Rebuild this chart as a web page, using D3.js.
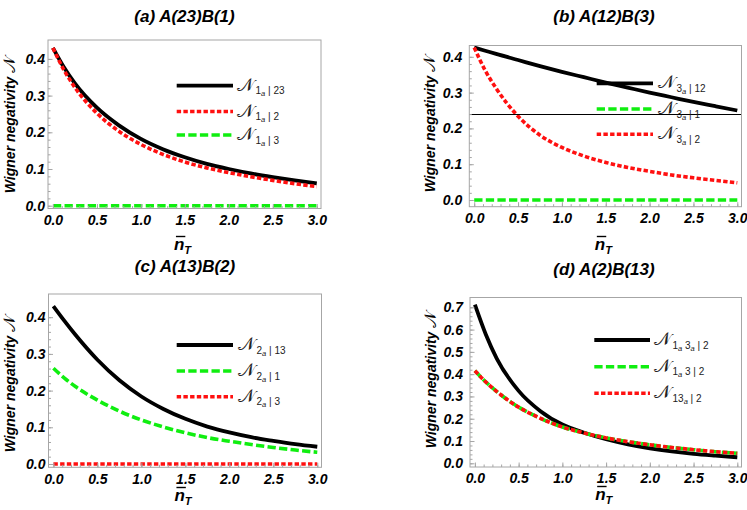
<!DOCTYPE html>
<html>
<head>
<meta charset="utf-8">
<script src="https://cdn.jsdelivr.net/npm/d3@7"></script>
<style>
  body { margin: 0; background: #fff; }
  text { font-family: "Liberation Sans", Arial, sans-serif; }
</style>
</head>
<body>
<svg id="chart" width="747" height="510"></svg>
<script>
// thermal photon number samples (shared by every curve)
const nT = [0, 0.125, 0.25, 0.5, 0.75, 1, 1.25, 1.5, 1.75, 2, 2.25, 2.5, 2.75, 3];
const zeros = [0, 0, 0, 0, 0, 0, 0, 0, 0, 0, 0, 0, 0, 0];

// (a) A(23)B(1)
const a_1a_23 = [0.430, 0.377, 0.333, 0.267, 0.219, 0.182, 0.154, 0.132, 0.114, 0.100, 0.088, 0.078, 0.069, 0.061];
const a_1a_2  = [0.430, 0.370, 0.322, 0.252, 0.203, 0.167, 0.140, 0.119, 0.103, 0.090, 0.079, 0.069, 0.060, 0.052];
const a_1a_3  = zeros;

// (b) A(12)B(3)
const b_3a_12 = [0.426, 0.417, 0.408, 0.391, 0.374, 0.358, 0.343, 0.328, 0.314, 0.300, 0.287, 0.274, 0.262, 0.250];
const b_3a_1  = zeros;
const b_3a_2  = [0.426, 0.362, 0.312, 0.234, 0.181, 0.147, 0.123, 0.105, 0.091, 0.080, 0.070, 0.062, 0.055, 0.048];
const bRefLine = 0.24;

// (c) A(13)B(2)
const c_2a_13 = [0.430, 0.390, 0.352, 0.284, 0.228, 0.184, 0.150, 0.123, 0.102, 0.086, 0.073, 0.063, 0.054, 0.047];
const c_2a_1  = [0.261, 0.234, 0.211, 0.174, 0.144, 0.120, 0.101, 0.085, 0.072, 0.062, 0.053, 0.045, 0.038, 0.032];
const c_2a_3  = zeros;

// (d) A(2)B(13)
const d_1a3a_2 = [0.712, 0.578, 0.470, 0.325, 0.234, 0.174, 0.137, 0.108, 0.085, 0.067, 0.053, 0.042, 0.034, 0.027];
const d_1a3_2  = [0.415, 0.365, 0.322, 0.252, 0.202, 0.163, 0.136, 0.114, 0.097, 0.083, 0.071, 0.061, 0.052, 0.045];
const d_13a_2  = [0.415, 0.365, 0.322, 0.252, 0.202, 0.163, 0.136, 0.114, 0.097, 0.083, 0.071, 0.061, 0.052, 0.045];

const xTicks = [0, 0.5, 1, 1.5, 2, 2.5, 3];
const yTicks04 = [0, 0.1, 0.2, 0.3, 0.4];
const yTicks07 = [0, 0.1, 0.2, 0.3, 0.4, 0.5, 0.6, 0.7];

const titles = ["(a) A(23)B(1)", "(b) A(12)B(3)", "(c) A(13)B(2)", "(d) A(2)B(13)"];

// legend subscripts: [text, level] where level 1 = subscript, 2 = sub-subscript
const legendA = [[["1", 1], ["a", 2], [" | 23", 1]], [["1", 1], ["a", 2], [" | 2", 1]], [["1", 1], ["a", 2], [" | 3", 1]]];
const legendB = [[["3", 1], ["a", 2], [" | 12", 1]], [["3", 1], ["a", 2], [" | 1", 1]], [["3", 1], ["a", 2], [" | 2", 1]]];
const legendC = [[["2", 1], ["a", 2], [" | 13", 1]], [["2", 1], ["a", 2], [" | 1", 1]], [["2", 1], ["a", 2], [" | 3", 1]]];
const legendD = [[["1", 1], ["a", 2], [" 3", 1], ["a", 2], [" | 2", 1]], [["1", 1], ["a", 2], [" 3 | 2", 1]], [["13", 1], ["a", 2], [" | 2", 1]]];

const STYLE = {
  black: { stroke: "#000", width: 3.8, dash: null },
  red:   { stroke: "#ff1010", width: 3.6, dash: "4.4,2.3" },
  green: { stroke: "#10ee10", width: 3.6, dash: "8.3,3.3" },
};

const PANELS = [
  {
    title: titles[0], titleX: 184.5, titleY: 21.5,
    box: { x0: 48, x1: 321, y0: 40, y1: 208.5 }, ydom: [-0.0076, 0.4515], yTicks: yTicks04,
    yLabelX: 14.5, yLabelY: 125, xLabelY: 250, tickPad: 3,
    series: [[a_1a_23, "black"], [a_1a_2, "red"], [a_1a_3, "green"]],
    legend: { x0: 176.7, x1: 233, tx: 237, ys: [85.7, 111.5, 135], labels: legendA, styles: ["black", "red", "green"] },
  },
  {
    title: titles[1], titleX: 604, titleY: 21.5,
    box: { x0: 469.3, x1: 741.5, y0: 45.5, y1: 206.7 }, ydom: [-0.0187, 0.4316], yTicks: yTicks04,
    yLabelX: 435, yLabelY: 124, xLabelY: 250, tickPad: 7,
    series: [[b_3a_12, "black"], [b_3a_1, "green"], [b_3a_2, "red"]],
    legend: { x0: 596.7, x1: 653, tx: 658, ys: [83.3, 109, 134.3], labels: legendB, styles: ["black", "green", "red"] },
    refLine: bRefLine,
  },
  {
    title: titles[2], titleX: 185, titleY: 272,
    box: { x0: 48.5, x1: 321.5, y0: 294, y1: 467.3 }, ydom: [-0.009, 0.4632], yTicks: yTicks04,
    yLabelX: 14.5, yLabelY: 384, xLabelY: 501, tickPad: 3,
    series: [[c_2a_13, "black"], [c_2a_1, "green"], [c_2a_3, "red"]],
    legend: { x0: 176.7, x1: 233, tx: 238, ys: [345, 371, 396.7], labels: legendC, styles: ["black", "green", "red"] },
  },
  {
    title: titles[3], titleX: 604, titleY: 275,
    box: { x0: 470, x1: 741.5, y0: 297.5, y1: 467 }, ydom: [-0.0166, 0.744], yTicks: yTicks07,
    yLabelX: 436, yLabelY: 380, xLabelY: 500, tickPad: 7,
    series: [[d_1a3a_2, "black"], [d_1a3_2, "green"], [d_13a_2, "red"]],
    legend: { x0: 594.3, x1: 650, tx: 654, ys: [340, 366.7, 393.3], labels: legendD, styles: ["black", "green", "red"] },
  },
];

const XDOM = [-0.056, 3.048];
const svg = d3.select("#chart");
const SCRIPT_N = "\u{1D4A9}";
const SCRIPT_FONT = '"DejaVu Sans", "DejaVu Serif", serif';

function applyStyle(sel, key) {
  const s = STYLE[key];
  sel.attr("fill", "none")
    .attr("stroke", s.stroke)
    .attr("stroke-width", s.width)
    .attr("stroke-dasharray", s.dash);
}

PANELS.forEach((p, i) => {
  const b = p.box;
  const x = d3.scaleLinear().domain(XDOM).range([b.x0, b.x1]);
  const y = d3.scaleLinear().domain(p.ydom).range([b.y1, b.y0]);
  const g = svg.append("g");

  // Title
  g.append("text")
    .attr("x", p.titleX).attr("y", p.titleY)
    .attr("text-anchor", "middle")
    .attr("font-size", 17).attr("font-weight", "bold").attr("font-style", "italic")
    .text(p.title);

  // Clip
  g.append("clipPath").attr("id", "clip" + i)
    .append("rect").attr("x", b.x0).attr("y", b.y0)
    .attr("width", b.x1 - b.x0).attr("height", b.y1 - b.y0);

  // Curves
  const line = d3.line().x((d, k) => x(nT[k])).y((d) => y(d)).curve(d3.curveMonotoneX);
  const plot = g.append("g").attr("clip-path", `url(#clip${i})`);
  p.series.forEach(([vals, key]) => {
    plot.append("path").attr("d", line(vals)).call(applyStyle, key);
  });
  if (p.refLine != null) {
    const ry = Math.round(y(p.refLine)) + 0.5;
    plot.append("line")
      .attr("x1", b.x0).attr("x2", b.x1)
      .attr("y1", ry).attr("y2", ry)
      .attr("stroke", "#000").attr("stroke-width", 1);
  }

  // Frame
  g.append("rect")
    .attr("x", b.x0).attr("y", b.y0)
    .attr("width", b.x1 - b.x0).attr("height", b.y1 - b.y0)
    .attr("fill", "none").attr("stroke", "#a6a6a6").attr("stroke-width", 1);

  // Axes (ticks point inward)
  const fmt = d3.format(".1f");
  const yMax = p.yTicks[p.yTicks.length - 1];
  const xMinor = g.append("g").attr("transform", `translate(0,${b.y1})`)
    .call(d3.axisBottom(x).tickValues(d3.range(0, 3.001, 0.1)).tickSize(-2.5).tickFormat(""));
  const xMajor = g.append("g").attr("transform", `translate(0,${b.y1})`)
    .call(d3.axisBottom(x).tickValues(xTicks).tickSize(-4.5).tickPadding(6.5).tickFormat(fmt));
  const yMinor = g.append("g").attr("transform", `translate(${b.x0},0)`)
    .call(d3.axisLeft(y).tickValues(d3.range(0, yMax + 0.001, 0.02)).tickSize(-2.5).tickFormat(""));
  const yMajor = g.append("g").attr("transform", `translate(${b.x0},0)`)
    .call(d3.axisLeft(y).tickValues(p.yTicks).tickSize(-4.5).tickPadding(p.tickPad).tickFormat(fmt));
  [xMinor, xMajor, yMinor, yMajor].forEach((ax) => {
    ax.select(".domain").remove();
    ax.selectAll("line").attr("stroke", "#a6a6a6");
    ax.selectAll("text")
      .attr("fill", "#000")
      .attr("font-family", '"Liberation Sans", Arial, sans-serif')
      .attr("font-size", 14).attr("font-weight", "bold").attr("font-style", "italic");
  });

  // Y label
  const yl = g.append("text")
    .attr("transform", `translate(${p.yLabelX},${p.yLabelY}) rotate(-90)`)
    .attr("text-anchor", "middle")
    .attr("font-size", 14).attr("font-weight", "bold").attr("font-style", "italic");
  yl.append("tspan").text("Wigner negativity ");
  yl.append("tspan").attr("font-family", SCRIPT_FONT).attr("font-size", 17)
    .attr("font-style", "normal").attr("font-weight", "normal").text(SCRIPT_N);

  // X label: n with a bar, subscript T
  const xl = g.append("text")
    .attr("x", (b.x0 + b.x1) / 2 - 2).attr("y", p.xLabelY)
    .attr("text-anchor", "middle")
    .attr("font-weight", "bold").attr("font-style", "italic");
  xl.append("tspan").attr("font-size", 17).text("n");
  xl.append("tspan").attr("font-size", 11).attr("dy", 4).text("T");
  const ext = xl.node().getExtentOfChar(0);
  g.append("line")
    .attr("x1", ext.x + 2).attr("x2", ext.x + ext.width + 1)
    .attr("y1", p.xLabelY - 13.5).attr("y2", p.xLabelY - 13.5)
    .attr("stroke", "#000").attr("stroke-width", 1.4);

  // Legend
  const L = p.legend;
  const offs = [0, 3.5, 5.5];
  const sizes = [15, 10, 7.5];
  L.styles.forEach((key, k) => {
    g.append("line")
      .attr("x1", L.x0).attr("x2", L.x1)
      .attr("y1", L.ys[k]).attr("y2", L.ys[k])
      .call(applyStyle, key);
    const t = g.append("text")
      .attr("x", L.tx).attr("y", L.ys[k] + 5)
      .attr("fill", "#222");
    t.append("tspan")
      .attr("font-family", SCRIPT_FONT)
      .attr("font-size", 18).text(SCRIPT_N);
    let cur = 0;
    L.labels[k].forEach(([txt, lvl], j) => {
      t.append("tspan")
        .attr("font-size", sizes[lvl])
        .attr("font-style", lvl === 2 ? "italic" : "normal")
        .attr("dx", j === 0 ? 1.5 : 0)
        .attr("dy", offs[lvl] - cur)
        .text(txt);
      cur = offs[lvl];
    });
  });
});
</script>
</body>
</html>
